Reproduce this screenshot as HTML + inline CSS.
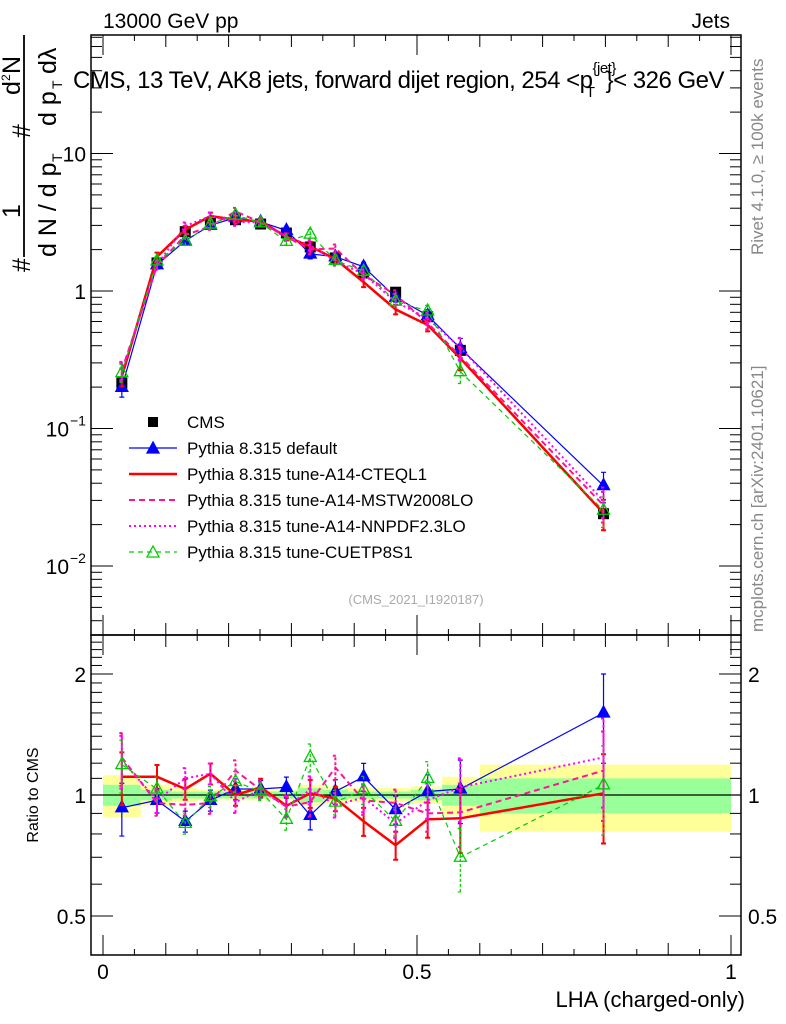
<!DOCTYPE html>
<html><head><meta charset="utf-8"><style>
html,body{margin:0;padding:0;background:#fff}
svg{display:block;font-family:"Liberation Sans",sans-serif}
</style></head><body>
<svg id="c" width="786" height="1024" viewBox="0 0 786 1024"></svg>
<script>
const lha=[0.030,0.086,0.131,0.171,0.211,0.251,0.292,0.330,0.370,0.415,0.466,0.517,0.569,0.797];
const binEdges=[0,0.06,0.11,0.15,0.19,0.23,0.27,0.31,0.35,0.39,0.44,0.49,0.54,0.60,1.0];
const cms=[0.214,1.6,2.7,3.1,3.3,3.07,2.64,2.09,1.74,1.35,0.98,0.65,0.37,0.024];
const cmsTot=[0.12,0.06,0.04,0.03,0.03,0.03,0.03,0.06,0.05,0.04,0.04,0.05,0.11,0.19];
const cmsStat=[0.06,0.03,0.02,0.02,0.02,0.02,0.02,0.04,0.03,0.02,0.02,0.03,0.06,0.10];
const rDefault=[0.93,0.97,0.86,0.97,1.035,1.035,1.045,0.89,1.02,1.11,0.92,1.02,1.035,1.6];
const rCTEQ=[1.11,1.11,1.035,1.13,1.0,1.045,0.94,1.01,0.98,0.86,0.75,0.87,0.875,1.01];
const rMSTW=[1.24,0.955,0.945,0.955,1.15,1.03,0.935,0.96,1.17,0.97,0.955,0.9,0.905,1.15];
const rNNPDF=[1.22,0.97,1.1,1.13,0.96,1.03,0.935,1.03,0.945,0.985,0.85,0.97,1.045,1.24];
const rCUETP=[1.19,1.035,0.85,0.99,1.08,1.02,0.87,1.24,0.96,1.03,0.86,1.1,0.70,1.06];
const mcErr=[0.15,0.07,0.06,0.06,0.06,0.05,0.06,0.08,0.07,0.08,0.08,0.10,0.18,0.25];
const yTicksMain=[10,1,0.1,0.01];
const yLabelsMain=["10","1","10|−1","10|−2"];
const rTicks=[2,1,0.5];
const rLabels=["2","1","0.5"];
const xTicks=[0,0.5,1];
const xLabels=["0","0.5","1"];

const NS="http://www.w3.org/2000/svg";
const svg=document.getElementById('c');
function el(tag,attrs,parent){const e=document.createElementNS(NS,tag);for(const k in attrs)e.setAttribute(k,attrs[k]);(parent||svg).appendChild(e);return e;}
const L=91,R=741,T=35,M=635,B=955;
const X=v=>103+628*v;
const Y=v=>291-137.5*Math.log10(v);
const YR=v=>795-402*Math.log10(v);

const bands=el('g',{});


for(let i=0;i<cms.length;i++){
  const x0=X(binEdges[i]),x1=X(binEdges[i+1]);
  const y=el('rect',{x:x0,y:YR(1+cmsTot[i]),width:x1-x0,height:YR(1-cmsTot[i])-YR(1+cmsTot[i]),fill:'#ffff99'},bands);
  
  
  const g=el('rect',{x:x0,y:YR(1+cmsStat[i]),width:x1-x0,height:YR(1-cmsStat[i])-YR(1+cmsStat[i]),fill:'#99ff99'},bands);
  
  
}
const one=el('line',{x1:L,x2:R,y1:YR(1),y2:YR(1),stroke:'#000','stroke-width':1.2});



const series=[
 {name:'default',r:rDefault,col:'#0000ff',w:1.2,dash:'',mk:'tri'},
 {name:'cteql1',r:rCTEQ,col:'#ff0000',w:2.5,dash:'',mk:''},
 {name:'mstw2008lo',r:rMSTW,col:'#ff1493',w:2,dash:'6,4',mk:''},
 {name:'nnpdf23lo',r:rNNPDF,col:'#ff00ff',w:2,dash:'2,3',mk:''},
 {name:'cuetp8s1',r:rCUETP,col:'#00cc00',w:1.2,dash:'5,4',mk:'otri'}
];
function tri(g,x,y,col,open,nm){
  const p=el('polygon',{points:`${x},${y-7} ${x-6},${y+4} ${x+6},${y+4}`,fill:open?'none':col,stroke:col,'stroke-width':1.3},g);
  
  
}
function drawSeries(s,main){
  const g=el('g',{});
  
  
  const val=i=>main?Y(cms[i]*s.r[i]):YR(s.r[i]);
  const lo=i=>main?Y(cms[i]*s.r[i]*(1-mcErr[i])):YR(s.r[i]*(1-mcErr[i]));
  const hi=i=>main?Y(cms[i]*s.r[i]*(1+mcErr[i])):YR(s.r[i]*(1+mcErr[i]));
  let d='';
  for(let i=0;i<lha.length;i++){d+=(i?'L':'M')+X(lha[i]).toFixed(1)+','+val(i).toFixed(1);}
  const p=el('path',{d:d,fill:'none',stroke:s.col,'stroke-width':s.w,'stroke-dasharray':s.dash},g);
  
  
  for(let i=0;i<lha.length;i++){
    const x=X(lha[i]);
    const e=el('path',{d:`M${x},${lo(i)}L${x},${hi(i)}M${x-2.5},${lo(i)}h5M${x-2.5},${hi(i)}h5`,stroke:s.col,'stroke-width':Math.min(s.w,2),'stroke-dasharray':s.dash?'3,2':''},g);
    
    
    if(s.mk)tri(g,x,val(i),s.col,s.mk==='otri','marker-'+s.name);
  }
}
for(const s of series)drawSeries(s,false);
const cg=el('g',{});


for(const s of series)drawSeries(s,true);
for(let i=0;i<lha.length;i++){
  const x=X(lha[i]),y=Y(cms[i]);
  const r=el('rect',{x:x-5.5,y:y-5.5,width:11,height:11,fill:'#000'},cg);
  
  
}

const fr=el('g',{fill:'none',stroke:'#000','stroke-width':1.5});


el('rect',{x:L,y:T,width:R-L,height:M-T},fr);
el('rect',{x:L,y:M,width:R-L,height:B-M},fr);
const tk=el('g',{stroke:'#000','stroke-width':1});


for(let k=0;k<=20;k++){
  const v=k*0.05,x=X(v),len=(k%10===0)?20:(k%2===0?12:6);
  [[T,1],[M,-1],[M,1],[B,-1]].forEach(([y0,dir])=>el('line',{x1:x,x2:x,y1:y0,y2:y0+dir*len},tk));
}
for(let e=-3;e<=1;e++){
  for(let m=1;m<=9;m++){
    const v=m*Math.pow(10,e),y=Y(v);
    if(y<T||y>M)continue;
    const len=m===1?22:11;
    el('line',{x1:L,x2:L+len,y1:y,y2:y},tk);
    el('line',{x1:R,x2:R-len,y1:y,y2:y},tk);
  }
}
for(let v=0.4;v<=2.51;v+=0.1){
  const y=YR(v);if(y<M||y>B)continue;
  const major=[0.5,1,2].some(q=>Math.abs(q-v)<1e-6);
  const len=major?22:11;
  el('line',{x1:L,x2:L+len,y1:y,y2:y},tk);
  el('line',{x1:R,x2:R-len,y1:y,y2:y},tk);
}
const lab=el('g',{'font-size':21,fill:'#000'});


yTicksMain.forEach((v,i)=>{
  const parts=yLabelsMain[i].split('|');
  const t=el('text',{x:parts[1]?69:86,y:Y(v)+8,'text-anchor':'end'},lab);
  
  
  t.textContent=parts[0];
  if(parts[1]){const s=el('text',{x:70,y:Y(v)-3,'font-size':14},lab);s.textContent=parts[1];
    
    }
});
rTicks.forEach((v,i)=>{
  const t=el('text',{x:86,y:YR(v)+8,'text-anchor':'end'},lab);
  
  
  t.textContent=rLabels[i];
  const t2=el('text',{x:748,y:YR(v)+8},lab);
  
  
  t2.textContent=rLabels[i];
});
xTicks.forEach((v,i)=>{
  const t=el('text',{x:X(v),y:979,'text-anchor':'middle'},lab);
  
  
  t.textContent=xLabels[i];
});
function txt(s,attrs,name){const t=el('text',attrs);t.textContent=s;return t;}
txt('LHA (charged-only)',{x:745,y:1007,'text-anchor':'end','font-size':22},'x-axis-title');
txt('Ratio to CMS',{x:0,y:0,'font-size':16,transform:'translate(38,795) rotate(-90)','text-anchor':'middle'},'ratio-y-axis-title');
txt('13000 GeV pp',{x:103,y:28,'font-size':21},'energy-label');
txt('Jets',{x:730,y:28,'font-size':21,'text-anchor':'end'},'process-label');
const ti=txt('',{x:73,y:88,'font-size':24,'letter-spacing':'-0.5'},'plot-title');
ti.innerHTML='CMS, 13 TeV, AK8 jets, forward dijet region, 254 &lt;p<tspan font-size="15" dy="-15">{jet}</tspan><tspan font-size="15" dx="-30" dy="24">T</tspan><tspan dy="-9" dx="11">}&lt; 326 GeV</tspan>';
txt('Rivet 4.1.0, ≥ 100k events',{x:0,y:0,'font-size':17,fill:'#888',transform:'translate(763,255) rotate(-90)'},'rivet-version-label');
txt('mcplots.cern.ch [arXiv:2401.10621]',{x:0,y:0,'font-size':17,fill:'#888',transform:'translate(763,632) rotate(-90)'},'mcplots-label');
txt('(CMS_2021_I1920187)',{x:416,y:604,'font-size':13,fill:'#aaa','text-anchor':'middle'},'analysis-id');
const yt=el('g',{transform:'rotate(-90)','font-size':25});


function yt_t(s,x,y,fs){const t=el('text',{x:-x,y:y,'font-size':fs||25},yt);t.textContent=s;}
yt_t('#',272,30);
yt_t('1',218,20);
yt_t('d N / d p',257,56);yt_t('T',162,62,14);
yt_t('#',138,30);
yt_t('d',95,20);yt_t('2',81,10,12);yt_t('N',74,20);
yt_t('d p',126,56);yt_t('T',89,62,14);yt_t('dλ',74,56);
el('line',{x1:-257,x2:-35,y1:24,y2:24,stroke:'#000','stroke-width':1.8},yt);
const lg=el('g',{'font-size':17});


const legNames=['CMS','Pythia 8.315 default','Pythia 8.315 tune-A14-CTEQL1','Pythia 8.315 tune-A14-MSTW2008LO','Pythia 8.315 tune-A14-NNPDF2.3LO','Pythia 8.315 tune-CUETP8S1'];
legNames.forEach((n,i)=>{
  const y=422+26*i;
  const g=el('g',{},lg);
  
  
  if(i===0){el('rect',{x:148,y:y-5,width:10,height:10,fill:'#000'},g);}
  else{const s=series[i-1];
    el('line',{x1:129,x2:177,y1:y,y2:y,stroke:s.col,'stroke-width':s.w,'stroke-dasharray':s.dash},g);
    if(s.mk)tri(g,153,y+1,s.col,s.mk==='otri','legend-marker');}
  const t=el('text',{x:187,y:y+6},g);t.textContent=n;
});
</script>
</body></html>
